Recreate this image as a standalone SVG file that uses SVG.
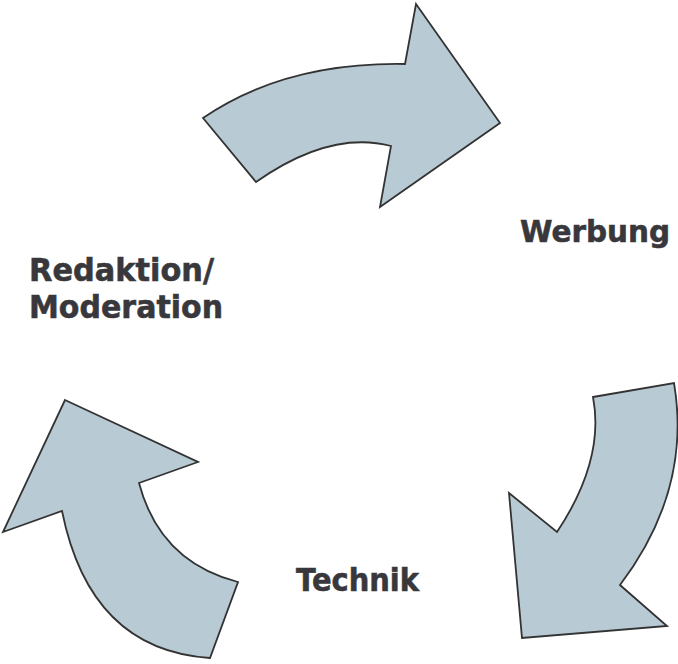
<svg xmlns="http://www.w3.org/2000/svg" width="678" height="664" viewBox="0 0 678 664">
  <style>
    .arrow { fill: #b8cad4; stroke: #333333; stroke-width: 1.8; stroke-linejoin: miter; }
    .label { font-family: "DejaVu Sans", Verdana, sans-serif; font-weight: bold; font-size: 32px; fill: #38383c; stroke: #38383c; stroke-width: 0.6; }
    #werbung .label { font-size: 31px; }
  </style>
  <rect width="678" height="664" fill="#ffffff"/>
  <g id="connectors">
    <!-- top arrow: Redaktion -> Werbung -->
    <path class="arrow" d="M203,118 Q285,62 405,64 L416,4 L500,123 L380,207 L391,146 Q330,130 256,182 Z"/>
    <!-- right arrow: Werbung -> Technik -->
    <path class="arrow" d="M593,397 L674,383 Q692,490 620,585 L667,626 L522,638 L509,493 L557,532 Q605,460 593,397 Z"/>
    <!-- left arrow: Technik -> Redaktion -->
    <path class="arrow" d="M65,400 L198,462 L139,483 Q160,562 238,582 L210,658 Q90,650 62,511 L3,532 Z"/>
  </g>
  <g id="werbung">
    <text class="label" x="520" y="242" textLength="150" lengthAdjust="spacingAndGlyphs">Werbung</text>
  </g>
  <g id="redaktion">
    <text class="label" x="29" y="281" textLength="185" lengthAdjust="spacingAndGlyphs">Redaktion/</text>
    <text class="label" x="29" y="317.5" textLength="194" lengthAdjust="spacingAndGlyphs">Moderation</text>
  </g>
  <g id="technik">
    <text class="label" x="296" y="590.5" textLength="123" lengthAdjust="spacingAndGlyphs">Technik</text>
  </g>
</svg>
